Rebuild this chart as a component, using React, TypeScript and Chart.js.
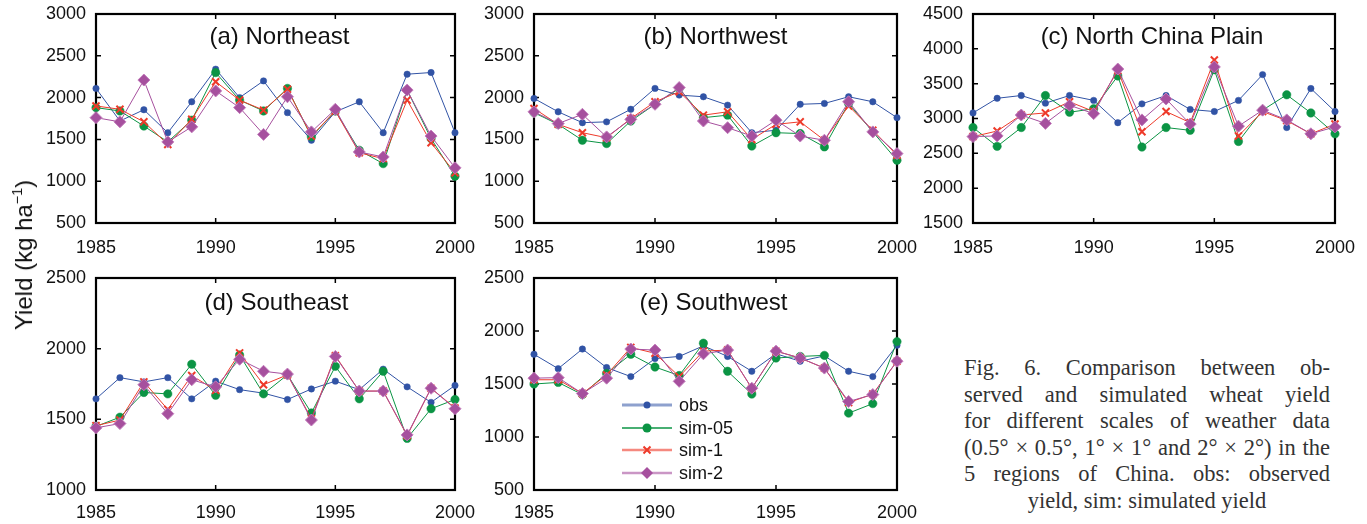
import React, { useEffect, useRef } from "react";
import { Chart, registerables } from "chart.js";

Chart.register(...registerables);

// ---------------- data ----------------
const years = [1985, 1986, 1987, 1988, 1989, 1990, 1991, 1992, 1993, 1994, 1995, 1996, 1997, 1998, 1999, 2000];
const xTicks = [1985, 1990, 1995, 2000];

// (a) Northeast
const neObs = [2110, 1720, 1855, 1580, 1950, 2340, 2000, 2200, 1820, 1490, 1830, 1950, 1580, 2280, 2300, 1580];
const neSim05 = [1880, 1840, 1660, 1470, 1730, 2300, 1970, 1840, 2110, 1530, 1840, 1370, 1210, 2090, 1510, 1060];
const neSim1 = [1900, 1860, 1710, 1440, 1740, 2190, 1970, 1850, 2100, 1540, 1840, 1340, 1270, 1970, 1460, 1100];
const neSim2 = [1760, 1710, 2210, 1470, 1650, 2080, 1880, 1560, 2010, 1590, 1860, 1350, 1290, 2090, 1540, 1160];

// (b) Northwest
const nwObs = [1990, 1830, 1700, 1710, 1860, 2110, 2030, 2010, 1910, 1580, 1610, 1920, 1930, 2010, 1950, 1760];
const nwSim05 = [1820, 1680, 1490, 1450, 1720, 1920, 2110, 1760, 1790, 1420, 1580, 1570, 1410, 1930, 1590, 1250];
const nwSim1 = [1870, 1680, 1580, 1520, 1750, 1950, 2070, 1790, 1830, 1500, 1680, 1710, 1490, 1900, 1610, 1310];
const nwSim2 = [1830, 1690, 1800, 1530, 1740, 1920, 2120, 1720, 1640, 1540, 1730, 1540, 1490, 1950, 1590, 1330];

// (c) North China Plain
const ncObs = [3080, 3290, 3330, 3220, 3330, 3260, 2940, 3210, 3330, 3130, 3100, 3260, 3630, 2870, 3430, 3100];
const ncSim05 = [2870, 2600, 2870, 3330, 3090, 3140, 3610, 2590, 2870, 2830, 3700, 2670, 3120, 3340, 3080, 2780];
const ncSim1 = [2740, 2820, 3050, 3080, 3240, 3100, 3690, 2810, 3100, 2940, 3840, 2750, 3100, 2970, 2780, 2920];
const ncSim2 = [2740, 2750, 3050, 2930, 3190, 3070, 3710, 2980, 3280, 2920, 3740, 2890, 3120, 2980, 2780, 2880];

// (d) Southeast
const seObs = [1645, 1795, 1765, 1795, 1645, 1770, 1710, 1685, 1640, 1715, 1770, 1710, 1855, 1730, 1620, 1740];
const seSim05 = [1450, 1515, 1690, 1680, 1890, 1670, 1955, 1680, 1815, 1545, 1875, 1645, 1840, 1365, 1575, 1640];
const seSim1 = [1455, 1495, 1765, 1570, 1810, 1705, 1970, 1745, 1815, 1505, 1950, 1700, 1700, 1385, 1720, 1580];
const seSim2 = [1440, 1470, 1745, 1540, 1780, 1730, 1925, 1840, 1820, 1495, 1945, 1700, 1700, 1390, 1720, 1575];

// (e) Southwest
const swObs = [1780, 1645, 1830, 1655, 1570, 1740, 1760, 1860, 1760, 1620, 1785, 1715, 1765, 1620, 1570, 1865];
const swSim05 = [1500, 1515, 1400, 1600, 1780, 1660, 1580, 1885, 1620, 1405, 1745, 1760, 1770, 1225, 1315, 1900];
const swSim1 = [1540, 1540, 1410, 1585, 1845, 1790, 1570, 1810, 1820, 1460, 1810, 1745, 1650, 1325, 1405, 1715];
const swSim2 = [1555, 1560, 1410, 1555, 1830, 1820, 1525, 1785, 1820, 1460, 1810, 1745, 1650, 1335, 1400, 1715];

const seriesNames = ["obs", "sim-05", "sim-1", "sim-2"];

const captionLines = [
  "Fig. 6. Comparison between ob-",
  "served and simulated wheat yield",
  "for different scales of weather data",
  "(0.5° × 0.5°, 1° × 1° and 2° × 2°) in the",
  "5 regions of China. obs: observed",
];
const captionLast = "yield, sim: simulated yield";

// ---------------- styles ----------------
const SANS = "'Liberation Sans', Arial, Helvetica, sans-serif";
const C_OBS = "#3153a5";
const C_S05 = "#0b9444";
const C_S1 = "#ee3a2a";
const C_S2 = "#a6509e";

function drawMarker(ctx: CanvasRenderingContext2D, kind: number, x: number, y: number) {
  ctx.save();
  if (kind === 0) {
    ctx.fillStyle = C_OBS;
    ctx.beginPath();
    ctx.arc(x, y, 3.5, 0, Math.PI * 2);
    ctx.fill();
  } else if (kind === 1) {
    ctx.fillStyle = C_S05;
    ctx.beginPath();
    ctx.arc(x, y, 4.5, 0, Math.PI * 2);
    ctx.fill();
  } else if (kind === 2) {
    ctx.strokeStyle = C_S1;
    ctx.lineWidth = 2;
    const d = 3.5;
    ctx.beginPath();
    ctx.moveTo(x - d, y - d);
    ctx.lineTo(x + d, y + d);
    ctx.moveTo(x - d, y + d);
    ctx.lineTo(x + d, y - d);
    ctx.stroke();
  } else {
    ctx.fillStyle = C_S2;
    const r = 6;
    ctx.beginPath();
    ctx.moveTo(x, y - r);
    ctx.lineTo(x + r, y);
    ctx.lineTo(x, y + r);
    ctx.lineTo(x - r, y);
    ctx.closePath();
    ctx.fill();
  }
  ctx.restore();
}

const framePlugin = {
  id: "frame",
  beforeDatasetsDraw(chart: any, _args: any, opts: any) {
    const { ctx, chartArea } = chart;
    const { left, right, top, bottom } = chartArea;
    const xs = chart.scales.x;
    const ys = chart.scales.y;
    ctx.save();
    ctx.strokeStyle = "#000";
    ctx.lineWidth = 1.5;
    ctx.beginPath();
    xs.ticks.forEach((t: any) => {
      const px = xs.getPixelForValue(t.value);
      ctx.moveTo(px, bottom);
      ctx.lineTo(px, bottom - 5);
      ctx.moveTo(px, top);
      ctx.lineTo(px, top + 5);
    });
    ys.ticks.forEach((t: any) => {
      const py = ys.getPixelForValue(t.value);
      ctx.moveTo(left, py);
      ctx.lineTo(left + 5, py);
      ctx.moveTo(right, py);
      ctx.lineTo(right - 5, py);
    });
    ctx.stroke();
    ctx.lineWidth = 2.2;
    ctx.strokeRect(left, top, right - left, bottom - top);
    if (opts && opts.title) {
      ctx.fillStyle = "#111";
      ctx.font = `24px ${SANS}`;
      ctx.textAlign = "center";
      ctx.textBaseline = "middle";
      ctx.fillText(opts.title, (left + right) / 2 + (opts.titleDx || 0), top + (opts.titleDy || 24));
    }
    ctx.restore();
  },
  afterDraw(chart: any, _args: any, opts: any) {
    if (!opts || !opts.legend) return;
    const { ctx, chartArea } = chart;
    const { left, top } = chartArea;
    const rows = [127, 150, 172, 195];
    const lineStyles = [
      { c: "rgba(49,83,165,0.55)", w: 3 },
      { c: C_S05, w: 1.5 },
      { c: "rgba(238,58,42,0.6)", w: 2.5 },
      { c: "rgba(166,80,158,0.6)", w: 2.5 },
    ];
    ctx.save();
    rows.forEach((dy, i) => {
      const y = top + dy;
      ctx.strokeStyle = lineStyles[i].c;
      ctx.lineWidth = lineStyles[i].w;
      ctx.beginPath();
      ctx.moveTo(left + 88, y);
      ctx.lineTo(left + 138, y);
      ctx.stroke();
      drawMarker(ctx, i, left + 113, y);
      ctx.fillStyle = "#111";
      ctx.font = `18px ${SANS}`;
      ctx.textAlign = "left";
      ctx.textBaseline = "middle";
      ctx.fillText(seriesNames[i], left + 145, y + 1);
    });
    ctx.restore();
  },
};

type PanelProps = {
  title: string;
  yMin: number;
  yMax: number;
  obs: number[];
  s05: number[];
  s1: number[];
  s2: number[];
  left: number;
  top: number;
  width: number;
  height: number;
  yAxisW: number;
  xAxisH: number;
  xTickGap: number;
  padTop: number;
  padRight: number;
  legend?: boolean;
  titleDx?: number;
  titleDy?: number;
};

function Panel(p: PanelProps) {
  const ref = useRef<HTMLCanvasElement | null>(null);
  useEffect(() => {
    if (!ref.current) return;
    const pts = (arr: number[]) => years.map((x, i) => ({ x, y: arr[i] }));
    const chart = new Chart(ref.current, {
      type: "line",
      data: {
        datasets: [
          {
            label: seriesNames[0],
            data: pts(p.obs),
            borderColor: C_OBS,
            backgroundColor: C_OBS,
            borderWidth: 1,
            pointStyle: "circle",
            pointRadius: 3.2,
            pointBorderWidth: 0.5,
            pointBackgroundColor: C_OBS,
            pointBorderColor: C_OBS,
            order: 4,
            clip: false,
          },
          {
            label: seriesNames[1],
            data: pts(p.s05),
            borderColor: C_S05,
            backgroundColor: C_S05,
            borderWidth: 1,
            pointStyle: "circle",
            pointRadius: 4.2,
            pointBorderWidth: 0.5,
            pointBackgroundColor: C_S05,
            pointBorderColor: C_S05,
            order: 3,
            clip: false,
          },
          {
            label: seriesNames[2],
            data: pts(p.s1),
            borderColor: C_S1,
            backgroundColor: C_S1,
            borderWidth: 1,
            pointStyle: "crossRot",
            pointRadius: 5,
            pointBorderWidth: 2,
            pointBorderColor: C_S1,
            order: 2,
            clip: false,
          },
          {
            label: seriesNames[3],
            data: pts(p.s2),
            borderColor: C_S2,
            backgroundColor: C_S2,
            borderWidth: 1,
            pointStyle: "rectRot",
            pointRadius: 6,
            pointBorderWidth: 1,
            pointBackgroundColor: C_S2,
            pointBorderColor: "#c27dbb",
            order: 1,
            clip: false,
          },
        ],
      } as any,
      options: {
        responsive: false,
        animation: false,
        devicePixelRatio: 1,
        events: [],
        layout: { padding: { top: p.padTop, right: p.padRight, left: 0, bottom: 0 } },
        plugins: {
          legend: { display: false },
          tooltip: { enabled: false },
          frame: { title: p.title, legend: !!p.legend, titleDx: p.titleDx || 0, titleDy: p.titleDy || 24 },
        } as any,
        elements: { line: { tension: 0 } },
        scales: {
          x: {
            type: "linear",
            min: years[0],
            max: years[years.length - 1],
            afterBuildTicks: (s: any) => {
              s.ticks = xTicks.map((v) => ({ value: v }));
            },
            ticks: {
              callback: (v: any) => String(v),
              color: "#111",
              font: { size: 18, family: SANS },
              padding: 0,
              maxRotation: 0,
              autoSkip: false,
            },
            grid: { display: false, drawTicks: true, tickLength: p.xTickGap },
            border: { display: false },
            afterFit: (s: any) => {
              s.height = p.xAxisH;
            },
          },
          y: {
            type: "linear",
            min: p.yMin,
            max: p.yMax,
            ticks: {
              stepSize: 500,
              callback: (v: any) => String(v),
              color: "#111",
              font: { size: 18, family: SANS },
              padding: 0,
            },
            grid: { display: false, drawTicks: true, tickLength: 10 },
            border: { display: false },
            afterFit: (s: any) => {
              s.width = p.yAxisW;
            },
          },
        },
      } as any,
      plugins: [framePlugin as any],
    });
    return () => chart.destroy();
  }, []);
  return (
    <canvas
      ref={ref}
      width={p.width}
      height={p.height}
      style={{ position: "absolute", left: p.left, top: p.top, width: p.width, height: p.height }}
    />
  );
}

export default function App() {
  return (
    <div
      style={{
        position: "absolute",
        left: 0,
        top: 0,
        width: 1367,
        height: 524,
        overflow: "hidden",
        background: "#fff",
        fontFamily: SANS,
      }}
    >
      <Panel title="(a) Northeast" yMin={500} yMax={3000} obs={neObs} s05={neSim05} s1={neSim1} s2={neSim2}
        left={0} top={0} width={480} height={262} yAxisW={96} xAxisH={39} xTickGap={14} padTop={14} padRight={25} titleDx={4} titleDy={23} />
      <Panel title="(b) Northwest" yMin={500} yMax={3000} obs={nwObs} s05={nwSim05} s1={nwSim1} s2={nwSim2}
        left={460} top={0} width={462} height={262} yAxisW={74} xAxisH={39} xTickGap={14} padTop={14} padRight={25} titleDy={23} />
      <Panel title="(c) North China Plain" yMin={1500} yMax={4500} obs={ncObs} s05={ncSim05} s1={ncSim1} s2={ncSim2}
        left={915} top={0} width={445} height={262} yAxisW={58} xAxisH={39} xTickGap={14} padTop={14} padRight={25} titleDx={-2} titleDy={23} />
      <Panel title="(d) Southeast" yMin={1000} yMax={2500} obs={seObs} s05={seSim05} s1={seSim1} s2={seSim2}
        left={0} top={264} width={480} height={258} yAxisW={96} xAxisH={32} xTickGap={12} padTop={14} padRight={25} titleDx={1} titleDy={25} />
      <Panel title="(e) Southwest" yMin={500} yMax={2500} obs={swObs} s05={swSim05} s1={swSim1} s2={swSim2}
        left={460} top={264} width={462} height={258} yAxisW={74} xAxisH={32} xTickGap={12} padTop={14} padRight={25} legend titleDx={-2} titleDy={25} />

      <div
        style={{
          position: "absolute",
          left: 24,
          top: 255,
          transform: "translate(-50%, -50%) rotate(-90deg)",
          whiteSpace: "nowrap",
          fontSize: 24,
          color: "#111",
          lineHeight: "28px",
        }}
      >
        Yield (kg ha<sup style={{ fontSize: "0.6em", lineHeight: 0, verticalAlign: "0.7em" }}>−1</sup>)
      </div>

      {captionLines.map((line, i) => (
        <div
          key={i}
          style={{
            position: "absolute",
            left: 964,
            top: 355 + i * 26.5,
            width: 366,
            height: 26,
            lineHeight: "26px",
            fontFamily: "'Liberation Serif', 'DejaVu Serif', serif",
            fontSize: 22.5,
            color: "#333",
            whiteSpace: "nowrap",
            textAlign: "justify",
            textAlignLast: "justify",
          } as any}
        >
          {line}
        </div>
      ))}
      <div
        style={{
          position: "absolute",
          left: 964,
          top: 355 + 5 * 26.5,
          width: 366,
          height: 26,
          lineHeight: "26px",
          fontFamily: "'Liberation Serif', 'DejaVu Serif', serif",
          fontSize: 22.5,
          color: "#333",
          whiteSpace: "nowrap",
          textAlign: "center",
        }}
      >
        {captionLast}
      </div>
    </div>
  );
}
